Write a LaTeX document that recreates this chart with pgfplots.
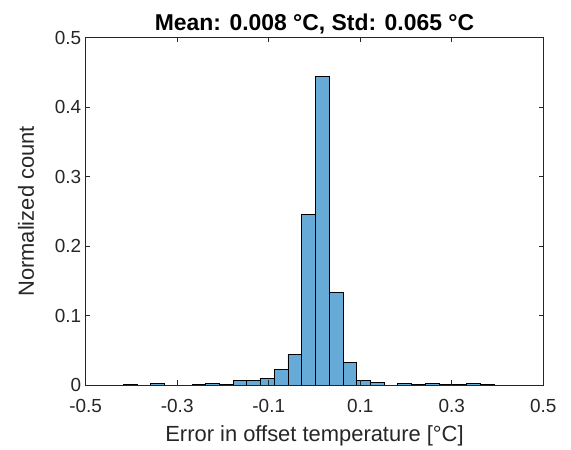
\documentclass[border=0pt]{standalone}
\usepackage{pgfplots}
\pgfplotsset{compat=1.18}
\usepackage{fontspec}
\setmainfont{Liberation Sans}
\usetikzlibrary{calc}
\definecolor{barfill}{rgb}{0.4,0.668,0.845}
\definecolor{axgray}{rgb}{0.15,0.15,0.15}
\begin{document}
\begin{tikzpicture}
\begin{axis}[
  name=ax,
  scale only axis,
  width=457.6bp, height=347.3bp,
  xmin=-0.5, xmax=0.5, ymin=0, ymax=0.5,
  xtick={-0.5,-0.3,-0.1,0.1,0.3,0.5},
  ytick={0,0.1,0.2,0.3,0.4,0.5},
  tick align=inside,
  major tick length=4.5bp,
  axis line style={axgray, line width=0.6bp},
  every tick/.style={axgray, line width=0.6bp},
  axis on top,
  /pgf/number format/assume math mode=true,
  ticklabel style={font=\fontsize{19}{22}\selectfont, text=axgray},
  xticklabel style={yshift=-11bp},
  yticklabel style={xshift=-1bp},
  xlabel={Error in offset temperature [°C]},
  ylabel={Normalized count},
  label style={font=\fontsize{22}{26}\selectfont, text=axgray},
  xlabel style={yshift=-6bp},
  ylabel style={yshift=14bp},
  title={Mean: 0.008 °C, Std: 0.065 °C},
  title style={font=\bfseries\fontsize{23}{27}\selectfont, yshift=-6bp},
]
\addplot[ybar interval, fill=barfill, draw=black, line width=0.6bp] coordinates {
(-0.418,0.0007)
(-0.388,0)
(-0.358,0.0028)
(-0.328,0)
(-0.298,0)
(-0.268,0.0007)
(-0.238,0.0028)
(-0.208,0.0007)
(-0.178,0.0067)
(-0.148,0.0067)
(-0.118,0.0100)
(-0.088,0.0226)
(-0.058,0.0446)
(-0.028,0.2457)
(0.002,0.4440)
(0.032,0.1335)
(0.062,0.0327)
(0.092,0.0067)
(0.122,0.0035)
(0.152,0)
(0.182,0.0021)
(0.212,0.0007)
(0.242,0.0021)
(0.272,0.0007)
(0.302,0.0007)
(0.332,0.0021)
(0.362,0.0007)
(0.392,0)
};
\end{axis}
\pgfresetboundingbox
\path[use as bounding box] ($(ax.south west)+(-85.7bp,-65bp)$) rectangle ($(ax.north east)+(27.7bp,37.7bp)$);
\end{tikzpicture}
\end{document}
